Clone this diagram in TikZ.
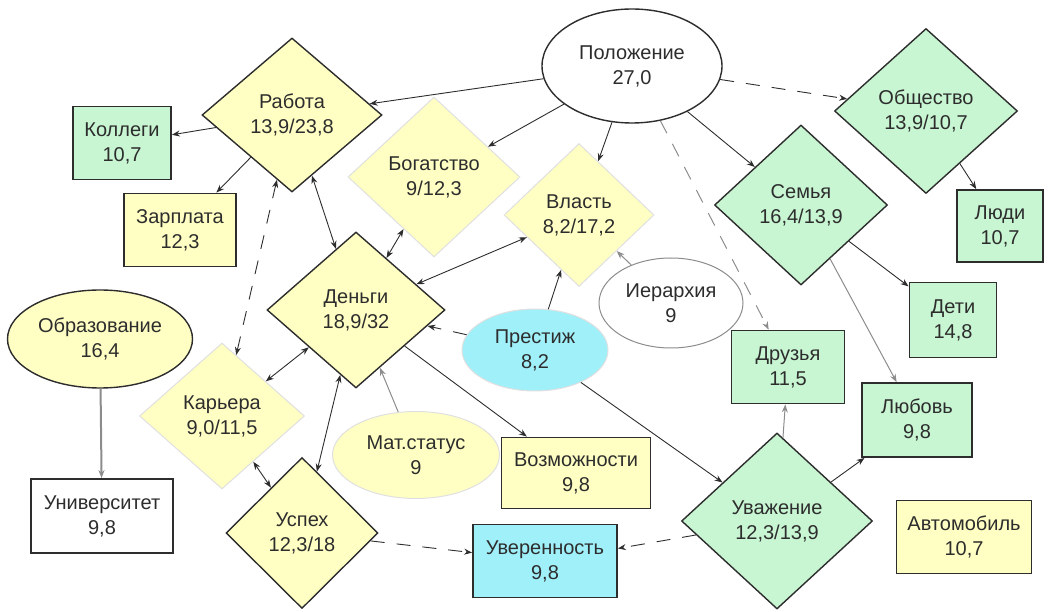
\documentclass[tikz,border=0pt]{standalone}
\usepackage{fontspec}
\setmainfont{Liberation Sans}
\usetikzlibrary{shapes.geometric,arrows.meta}
\definecolor{yelfill}{RGB}{255,255,196}
\definecolor{grnfill}{RGB}{200,245,210}
\definecolor{cyanfill}{RGB}{160,240,250}
\definecolor{darkline}{RGB}{45,45,45}
\tikzset{
  every node/.style={font=\fontsize{20}{25}\selectfont, align=center, text=darkline},
  rhomb/.style={diamond, draw=darkline, line width=1.4pt, inner sep=0pt},
  paler/.style={diamond, draw=black!12, line width=1pt, inner sep=0pt},
  box/.style={rectangle, draw=darkline, line width=1.8pt, inner sep=0pt},
  oval/.style={ellipse, draw=darkline, line width=1.4pt, inner sep=0pt},
  link/.style={->, draw=darkline, line width=0.9pt},
  both/.style={<->, draw=darkline, line width=0.9pt},
  greylink/.style={->, draw=black!45, line width=1pt},
  dashlink/.style={dash pattern=on 14pt off 12pt},
}
\begin{document}
\begin{tikzpicture}[x=1pt,y=-1pt,>={Stealth[length=8pt,width=6pt]}]
  \useasboundingbox (0,0) rectangle (1050,612);
  % nodes
  \node[oval, fill=white, minimum width=180pt, minimum height=114pt] (pol) at (632,66) {Положение\\27,0};
  \node[rhomb, fill=yelfill, minimum width=180pt, minimum height=154pt] (rab) at (292,115) {Работа\\13,9/23,8};
  \node[box, fill=grnfill, minimum width=98pt, minimum height=73pt] (kol) at (122,143) {Коллеги\\10,7};
  \node[box, fill=yelfill, minimum width=112pt, minimum height=73pt] (zar) at (180,230) {Зарплата\\12,3};
  \node[paler, fill=yelfill, minimum width=172pt, minimum height=160pt] (bog) at (434,177) {Богатство\\9/12,3};
  \node[paler, fill=yelfill, minimum width=150pt, minimum height=143pt] (vla) at (579,215) {Власть\\8,2/17,2};
  \node[rhomb, fill=yelfill, minimum width=178pt, minimum height=156pt] (den) at (356,310) {Деньги\\18,9/32};
  \node[oval, fill=yelfill, minimum width=185pt, minimum height=98pt] (obr) at (100,339) {Образование\\16,4};
  \node[box, fill=white, minimum width=142pt, minimum height=74pt] (uni) at (102,516) {Университет\\9,8};
  \node[paler, fill=yelfill, minimum width=165pt, minimum height=146pt] (kar) at (222,416) {Карьера\\9,0/11,5};
  \node[rhomb, fill=yelfill, minimum width=152pt, minimum height=151pt] (usp) at (302,533) {Успех\\12,3/18};
  \node[oval, draw=black!12, line width=1pt, fill=yelfill, minimum width=167pt, minimum height=87pt] (mat) at (416,455) {Мат.статус\\9};
  \node[box, fill=yelfill, minimum width=149pt, minimum height=71pt] (voz) at (576,473) {Возможности\\9,8};
  \node[box, fill=cyanfill, minimum width=144pt, minimum height=73pt] (uve) at (545,561) {Уверенность\\9,8};
  \node[oval, draw=black!12, line width=1pt, fill=cyanfill, minimum width=146pt, minimum height=82pt] (pre) at (535,350) {Престиж\\8,2};
  \node[oval, draw=black!45, line width=1pt, fill=white, minimum width=144pt, minimum height=90pt] (ier) at (671,303) {Иерархия\\9};
  \node[rhomb, fill=grnfill, minimum width=173pt, minimum height=160pt] (sem) at (801,205) {Семья\\16,4/13,9};
  \node[rhomb, fill=grnfill, minimum width=183pt, minimum height=165pt] (obs) at (926,111) {Общество\\13,9/10,7};
  \node[box, fill=grnfill, minimum width=86pt, minimum height=72pt] (lud) at (1000,226) {Люди\\10,7};
  \node[box, fill=grnfill, minimum width=87pt, minimum height=75pt] (det) at (953,320) {Дети\\14,8};
  \node[box, fill=grnfill, minimum width=113pt, minimum height=73pt] (dru) at (788,367) {Друзья\\11,5};
  \node[box, fill=grnfill, minimum width=110pt, minimum height=74pt] (lub) at (917,420) {Любовь\\9,8};
  \node[rhomb, fill=grnfill, minimum width=191pt, minimum height=176pt] (uva) at (777,521) {Уважение\\12,3/13,9};
  \node[box, fill=yelfill, minimum width=135pt, minimum height=73pt] (avt) at (964,537) {Автомобиль\\10,7};
  % links
  \draw[link] (pol) -- (rab);
  \draw[link] (pol) -- (bog);
  \draw[link] (pol) -- (vla);
  \draw[link] (pol) -- (sem);
  \draw[link, dashlink] (pol) -- (obs);
  \draw[greylink, dashlink] (pol) -- (dru);
  \draw[link] (rab) -- (kol);
  \draw[link] (rab) -- (zar);
  \draw[both] (rab) -- (den);
  \draw[both, dashlink] (kar) -- (rab);
  \draw[both] (den) -- (bog);
  \draw[both] (den) -- (vla);
  \draw[both] (den) -- (kar);
  \draw[both] (den) -- (usp);
  \draw[link, dashlink] (pre) -- (den);
  \draw[link] (pre) -- (vla);
  \draw[link] (pre) -- (uva);
  \draw[link] (den) -- (voz);
  \draw[greylink] (mat) -- (den);
  \draw[greylink, line width=2pt] (obr) -- (uni);
  \draw[both] (kar) -- (usp);
  \draw[link, dashlink] (usp) -- (uve);
  \draw[link, dashlink] (uva) -- (uve);
  \draw[greylink] (uva) -- (dru);
  \draw[link] (uva) -- (lub);
  \draw[link] (sem) -- (det);
  \draw[greylink] (sem) -- (lub);
  \draw[link] (obs) -- (lud);
  \draw[greylink] (ier) -- (vla);
\end{tikzpicture}
\end{document}
